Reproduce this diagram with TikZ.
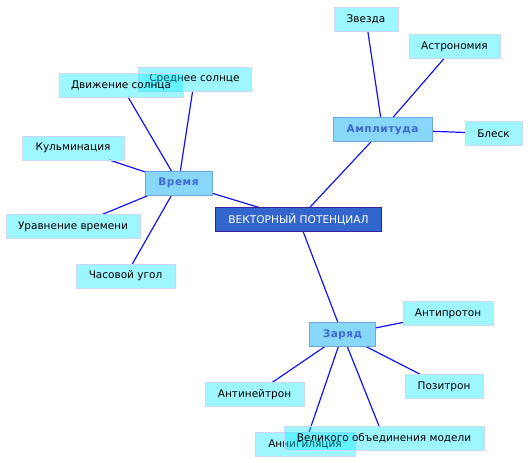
\documentclass[tikz,border=0pt]{standalone}
\usepackage{fontspec}
\setmainfont{DejaVu Sans}
\newfontfamily\hubfont{DejaVu Sans}[LetterSpace=5]
\usetikzlibrary{backgrounds}
\definecolor{leaffill}{RGB}{0,235,255}
\definecolor{leafline}{RGB}{205,215,250}
\definecolor{hubfill}{RGB}{136,214,248}
\definecolor{hubline}{RGB}{110,165,225}
\definecolor{hubtext}{RGB}{60,105,210}
\definecolor{corefill}{RGB}{51,102,204}
\definecolor{coreline}{RGB}{60,30,160}
\definecolor{linkblue}{RGB}{20,20,240}
\tikzset{
  leaf/.style={draw=leafline, line width=1pt, fill=leaffill, fill opacity=0.38, text opacity=1,
    inner sep=0pt, outer sep=0pt, minimum height=24pt, font=\fontsize{10.5}{12}\selectfont, text=black},
  hub/.style={draw=hubline, line width=1pt, fill=hubfill, inner sep=0pt, outer sep=0pt,
    minimum height=24pt, font=\hubfont\bfseries\fontsize{10.5}{12}\selectfont, text=hubtext},
  core/.style={draw=coreline, line width=1.3pt, fill=corefill, inner sep=0pt, outer sep=0pt,
    minimum height=24pt, font=\fontsize{10.6}{12}\selectfont, text=white},
  link/.style={draw=linkblue, line width=1.2pt}
}
\begin{document}
\begin{tikzpicture}[x=1pt, y=-1pt]
\useasboundingbox (0,0) rectangle (528,463);
% hubs
\node[core, minimum width=166pt] (core) at (298.5,219.5) {ВЕКТОРНЫЙ ПОТЕНЦИАЛ};
\node[hub, minimum width=67pt] (time) at (178.5,183) {Время};
\node[hub, minimum width=99pt] (ampl) at (382.5,129.5) {Амплитуда};
\node[hub, minimum width=66pt] (charge) at (342.5,334.5) {Заряд};
% leaves
\node[leaf, minimum width=64pt] (star) at (366,19) {Звезда};
\node[leaf, minimum width=91pt] (astro) at (454.5,46.5) {Астрономия};
\node[leaf, minimum width=57pt] (shine) at (493.5,133.5) {Блеск};
\node[leaf, minimum width=113pt] (meansun) at (194.5,79) {Среднее солнце};
\node[leaf, minimum width=124pt] (sunmove) at (121,85) {Движение солнца};
\node[leaf, minimum width=102pt] (culm) at (73,148) {Кульминация};
\node[leaf, minimum width=134pt] (eqtime) at (73,226.5) {Уравнение времени};
\node[leaf, minimum width=99pt] (hour) at (125.5,276) {Часовой угол};
\node[leaf, minimum width=90pt] (antip) at (448,313.5) {Антипротон};
\node[leaf, minimum width=78pt] (posit) at (444,386.5) {Позитрон};
\node[leaf, minimum width=99pt] (antin) at (254.5,394.5) {Антинейтрон};
\node[leaf, minimum width=100pt] (annih) at (305,444) {Аннигиляция};
\node[leaf, minimum width=200pt] (gut) at (384,438.5) {Великого объединения модели};
% links
\begin{scope}[on background layer]
\draw[link] (core) -- (time);
\draw[link] (core) -- (ampl);
\draw[link] (core) -- (charge);
\draw[link] (time) -- (sunmove);
\draw[link] (time) -- (meansun);
\draw[link] (time) -- (culm);
\draw[link] (time) -- (eqtime);
\draw[link] (time) -- (hour);
\draw[link] (ampl) -- (star);
\draw[link] (ampl) -- (astro);
\draw[link] (ampl) -- (shine);
\draw[link] (charge) -- (antip);
\draw[link] (charge) -- (posit);
\draw[link] (charge) -- (antin);
\draw[link] (charge) -- (annih);
\draw[link] (charge) -- (gut);
\end{scope}
\end{tikzpicture}
\end{document}
